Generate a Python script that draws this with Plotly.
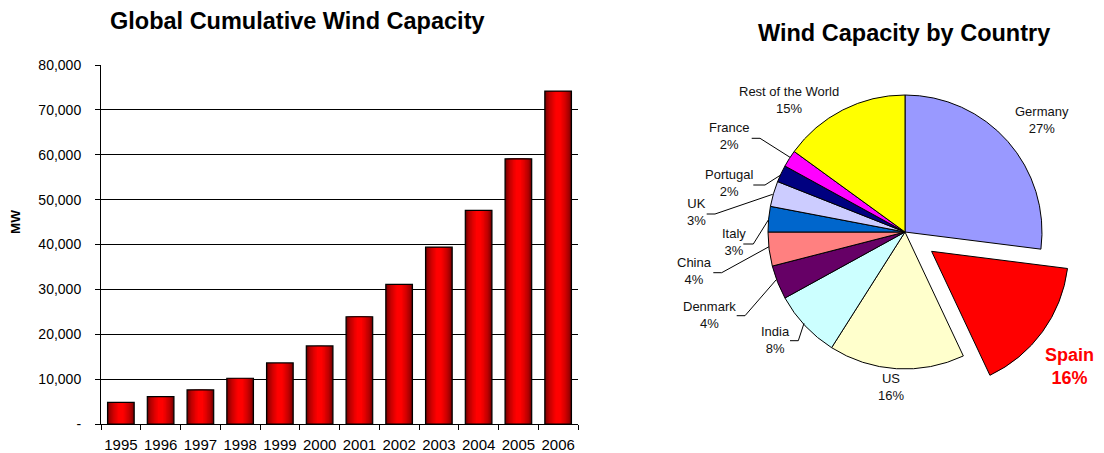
import plotly.graph_objects as go

# ---------------- data ----------------
years = ["1995", "1996", "1997", "1998", "1999", "2000",
         "2001", "2002", "2003", "2004", "2005", "2006"]
capacity_mw = [4800, 6100, 7600, 10200, 13600, 17400,
               23900, 31100, 39400, 47600, 59100, 74200]

y_tick_values = [0, 10000, 20000, 30000, 40000, 50000, 60000, 70000, 80000]
y_tick_labels = ["-", "10,000", "20,000", "30,000", "40,000",
                 "50,000", "60,000", "70,000", "80,000"]

countries = ["Germany", "Spain", "US", "India", "Denmark", "China",
             "Italy", "UK", "Portugal", "France", "Rest of the World"]
shares_pct = [27, 16, 16, 8, 4, 4, 3, 3, 2, 2, 15]

# ---------------- styles ----------------
# page body has an 8px default margin -> figure is 8px smaller and offset
OFF = 8
W, H = 1104 - OFF, 453 - OFF
FONT = "Liberation Sans, Arial, sans-serif"
slice_colors = ["#9999FF", "#FF0000", "#FFFFCC", "#CCFFFF", "#660066", "#FF8080",
                "#0066CC", "#CCCCFF", "#000080", "#FF00FF", "#FFFF00"]
pulls = [0, 0.24, 0, 0, 0, 0, 0, 0, 0, 0, 0]


def px(x):
    return (x - OFF) / W


def py(y):
    return 1 - (y - OFF) / H


fig = go.Figure()

# layered bars to imitate the cylindrical gradient
n_layers = 9
base_w = 0.67
for i in range(n_layers):
    t = i / (n_layers - 1)
    w = base_w * (1 - 0.8 * t)
    r = int(105 + (255 - 105) * (t ** 0.55))
    fig.add_trace(go.Bar(
        x=years, y=capacity_mw, width=w,
        marker=dict(color=f"rgb({r},0,0)", line=dict(width=0)),
        xaxis="x", yaxis="y", showlegend=False,
    ))
# outline
fig.add_trace(go.Bar(
    x=years, y=capacity_mw, width=base_w,
    marker=dict(color="rgba(0,0,0,0)", line=dict(color="#000000", width=1.2)),
    xaxis="x", yaxis="y", showlegend=False, hoverinfo="skip",
))

# pie
pie_r = 137
cx, cy = 905, 232
half = pie_r * (1 + max(pulls))
fig.add_trace(go.Pie(
    labels=countries, values=shares_pct, sort=False, direction="clockwise",
    rotation=0, pull=pulls, textinfo="none",
    marker=dict(colors=slice_colors, line=dict(color="#000000", width=1)),
    domain=dict(x=[px(cx - half), px(cx + half)], y=[py(cy + half), py(cy - half)]),
    showlegend=False,
))

# pie label positions (layout)
label_pos = {
    "Germany": (1042, 120), "Spain": (1069, 366), "US": (891, 387),
    "India": (775, 340), "Denmark": (709, 315), "China": (694, 271),
    "Italy": (734, 242), "UK": (696, 212), "Portugal": (729, 183),
    "France": (729, 136), "Rest of the World": (789, 100),
}
annotations = []
for name, pct in zip(countries, shares_pct):
    x, y = label_pos[name]
    if name == "Spain":
        txt = f"<b>{name}<br>{pct}%</b>"
        font = dict(family=FONT, size=18, color="#FF0000")
    else:
        txt = f"{name}<br>{pct}%"
        font = dict(family=FONT, size=13, color="#111111")
    annotations.append(dict(
        text=txt, x=px(x), y=py(y), xref="paper", yref="paper",
        showarrow=False, font=font, align="center",
        xanchor="center", yanchor="middle",
    ))

# leader lines
leaders = [
    [(751.7, 138.3), (760, 138.3), (790, 157.3)],
    [(753.3, 185), (765, 185), (780.7, 175)],
    [(706.7, 214), (715, 214), (772.7, 194.3)],
    [(743.3, 244), (753.3, 244), (768.3, 220)],
    [(713.3, 272.7), (721.7, 272.7), (769, 246.7)],
    [(736.7, 315.7), (745, 315.7), (776, 280)],
    [(790, 340.7), (798.3, 340.7), (804, 323.3)],
]
shapes = []
for pts in leaders:
    for (x0, y0), (x1, y1) in zip(pts[:-1], pts[1:]):
        shapes.append(dict(type="line", xref="paper", yref="paper",
                           x0=px(x0), y0=py(y0), x1=px(x1), y1=py(y1),
                           line=dict(color="#000000", width=1)))

# titles
annotations.append(dict(text="<b>Global Cumulative Wind Capacity</b>",
                        x=px(297), y=py(21), xref="paper", yref="paper",
                        showarrow=False, font=dict(family=FONT, size=23.5, color="#000"),
                        xanchor="center", yanchor="middle"))
annotations.append(dict(text="<b>Wind Capacity by Country</b>",
                        x=px(904), y=py(33), xref="paper", yref="paper",
                        showarrow=False, font=dict(family=FONT, size=23.5, color="#000"),
                        xanchor="center", yanchor="middle"))
annotations.append(dict(text="<b>MW</b>", x=px(15), y=py(222), xref="paper", yref="paper",
                        showarrow=False, textangle=-90,
                        font=dict(family=FONT, size=13.5, color="#000"),
                        xanchor="center", yanchor="middle"))

fig.update_layout(
    width=W, height=H, margin=dict(l=0, r=0, t=0, b=0, autoexpand=False),
    paper_bgcolor="white", plot_bgcolor="white",
    barmode="overlay", showlegend=False,
    font=dict(family=FONT, size=13, color="#000"),
    xaxis=dict(domain=[px(101), px(578)], type="category", automargin=False,
               showline=True, linecolor="#000", linewidth=1,
               ticks="outside", ticklen=5, tickcolor="#000", tickson="boundaries",
               ticklabelstandoff=7, tickangle=0,
               tickfont=dict(family=FONT, size=15, color="#000"),
               showgrid=False, zeroline=False, fixedrange=True),
    yaxis=dict(domain=[py(424), py(65)], range=[0, 80000], automargin=False,
               tickvals=y_tick_values, ticktext=y_tick_labels,
               showline=True, linecolor="#000", linewidth=1,
               ticks="outside", ticklen=5, tickcolor="#000",
               ticklabelstandoff=11,
               tickfont=dict(family=FONT, size=14, color="#000"),
               showgrid=True, gridcolor="#000", gridwidth=1,
               zeroline=False, fixedrange=True),
    annotations=annotations, shapes=shapes,
)

fig.write_html("out.html")
